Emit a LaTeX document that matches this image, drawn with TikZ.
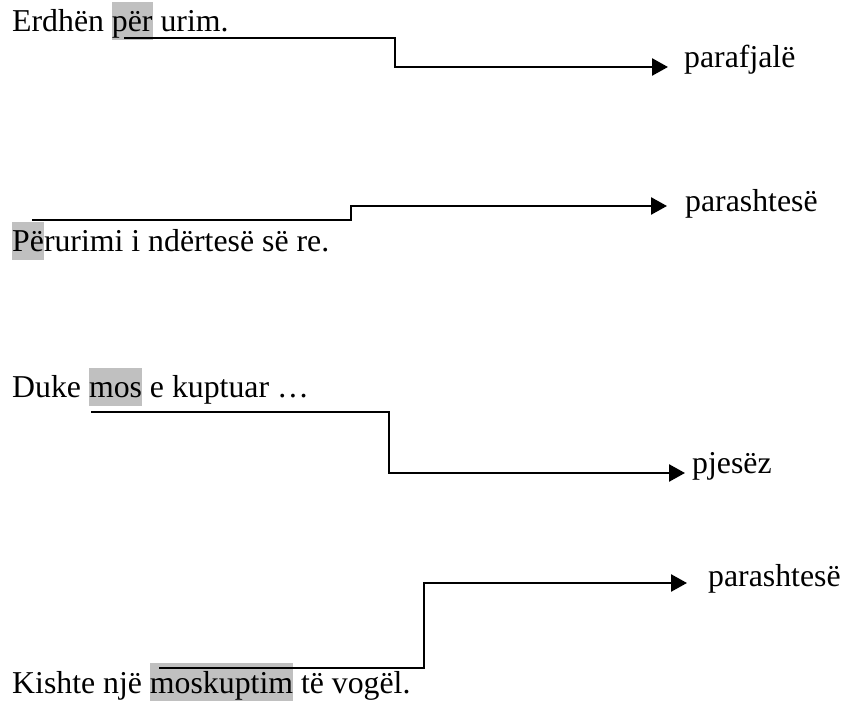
\documentclass[tikz,border=0pt]{standalone}
\usepackage{fontspec}
\setmainfont{Liberation Serif}
\usetikzlibrary{arrows.meta}
\definecolor{hlgray}{RGB}{192,192,192}
\newcommand\hlw[1]{{\setlength\fboxsep{0pt}\colorbox{hlgray}{\rule[-8pt]{0pt}{38pt}#1}}}
\tikzset{
  sent/.style={anchor=base west, inner sep=0pt, font=\fontsize{31.8}{38}\selectfont},
  lbl/.style={anchor=base west, inner sep=0pt, font=\fontsize{31.8}{38}\selectfont},
  conn/.style={line width=2.6pt, -{Triangle[length=16pt,width=17pt]}}
}
\begin{document}
\begin{tikzpicture}[x=1pt,y=1pt]
\useasboundingbox (0,0) rectangle (844,702);
% diagram 1
\node[sent] (t1) at (12,{702-32}) {Erdhën \hlw{për} urim.};
\node[lbl] (l1) at (684,{702-68}) {parafjalë};
\coordinate (s1) at (124,{702-38});
\coordinate (c1) at (395,{702-67});
\coordinate (e1) at (668,{702-67});
\draw[conn] (s1) -| (c1) -- (e1);
% diagram 2
\node[sent] (t2) at (12,{702-252}) {\hlw{Pë}rurimi i ndërtesë së re.};
\node[lbl] (l2) at (685,{702-212}) {parashtesë};
\coordinate (s2) at (32,{702-220});
\coordinate (c2) at (351,{702-206});
\coordinate (e2) at (667,{702-206});
\draw[conn] (s2) -| (c2) -- (e2);
% diagram 3
\node[sent] (t3) at (12,{702-398}) {Duke \hlw{mos} e kuptuar …};
\node[lbl] (l3) at (692,{702-474}) {pjesëz};
\coordinate (s3) at (91,{702-412});
\coordinate (c3) at (389,{702-473});
\coordinate (e3) at (685,{702-473});
\draw[conn] (s3) -| (c3) -- (e3);
% diagram 4
\node[sent] (t4) at (12,{702-693}) {Kishte një \hlw{moskuptim} të vogël.};
\node[lbl] (l4) at (708,{702-587}) {parashtesë};
\coordinate (s4) at (159,{702-668});
\coordinate (c4) at (424,{702-583});
\coordinate (e4) at (687,{702-583});
\draw[conn] (s4) -| (c4) -- (e4);
\end{tikzpicture}
\end{document}
